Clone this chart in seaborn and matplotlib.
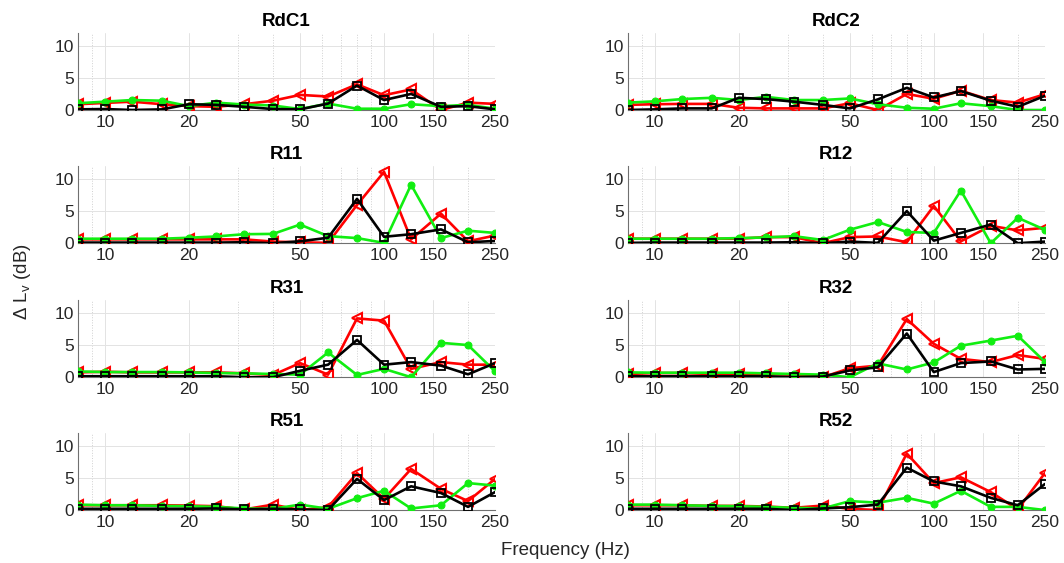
import matplotlib
matplotlib.use("Agg")
import matplotlib.pyplot as plt
import seaborn as sns
import numpy as np

freq = [8, 10, 12.5, 16, 20, 25, 31.5, 40, 50, 63, 80, 100, 125, 160, 200, 250]
titles = ["RdC1", "RdC2", "R11", "R12", "R31", "R32", "R51", "R52"]

black = {
    "RdC1": [0.1, 0.15, 0.0, 0.1, 0.9, 0.8, 0.5, 0.15, 0.1, 1.0, 3.8, 1.55, 2.5, 0.5, 0.6, 0.1],
    "RdC2": [0.0, 0.1, 0.25, 0.25, 1.9, 1.7, 1.3, 0.8, 0.25, 1.65, 3.45, 1.95, 2.95, 1.45, 0.5, 2.2],
    "R11": [0.1, 0.1, 0.1, 0.1, 0.1, 0.1, 0.15, 0.0, 0.3, 0.85, 6.9, 1.0, 1.4, 2.15, 0.15, 0.35],
    "R12": [0.05, 0.1, 0.1, 0.1, 0.1, 0.1, 0.15, 0.0, 0.25, 0.05, 5.0, 0.4, 1.6, 2.9, 0.0, 0.25],
    "R31": [0.15, 0.15, 0.15, 0.15, 0.15, 0.15, 0.0, 0.0, 1.0, 1.95, 5.8, 1.95, 2.35, 1.8, 0.45, 2.2],
    "R32": [0.15, 0.15, 0.15, 0.15, 0.15, 0.15, 0.0, 0.1, 1.05, 1.55, 6.8, 0.8, 2.2, 2.45, 1.2, 1.3],
    "R51": [0.2, 0.2, 0.2, 0.2, 0.2, 0.25, 0.1, 0.2, 0.1, 0.0, 4.85, 1.55, 3.7, 2.65, 0.5, 2.8],
    "R52": [0.2, 0.2, 0.2, 0.2, 0.2, 0.2, 0.0, 0.25, 0.45, 0.85, 6.6, 4.45, 3.7, 1.9, 0.75, 4.05],
}
red = {
    "RdC1": [0.9, 1.1, 1.3, 0.9, 0.6, 0.5, 0.9, 1.45, 2.35, 2.1, 4.0, 2.3, 3.2, 0.0, 1.15, 0.95],
    "RdC2": [0.8, 0.9, 0.95, 0.95, 0.35, 0.25, 0.25, 0.25, 1.05, 0.0, 2.5, 1.75, 3.0, 1.55, 1.15, 2.45],
    "R11": [0.6, 0.6, 0.6, 0.6, 0.6, 0.6, 0.6, 0.25, 0.15, 0.05, 5.95, 11.1, 0.6, 4.6, 0.3, 1.2],
    "R12": [0.7, 0.7, 0.7, 0.7, 0.7, 0.95, 0.95, 0.0, 0.95, 1.05, 0.15, 5.8, 0.3, 2.7, 2.0, 2.4],
    "R31": [0.75, 0.85, 0.75, 0.75, 0.75, 0.75, 0.6, 0.35, 2.2, 0.4, 9.15, 8.8, 1.3, 2.35, 1.95, 1.95],
    "R32": [0.5, 0.65, 0.65, 0.5, 0.5, 0.5, 0.4, 0.0, 1.4, 1.8, 9.05, 5.2, 2.85, 2.35, 3.45, 2.85],
    "R51": [0.75, 0.75, 0.75, 0.75, 0.7, 0.6, 0.1, 0.85, 0.0, 0.45, 5.75, 1.75, 6.4, 3.3, 1.4, 4.85],
    "R52": [0.75, 0.75, 0.75, 0.65, 0.65, 0.55, 0.35, 0.7, 0.2, 0.0, 8.8, 4.2, 5.1, 2.8, 0.1, 5.75],
}
green = {
    "RdC1": [1.05, 1.3, 1.55, 1.45, 0.6, 1.15, 0.85, 0.7, 0.15, 1.0, 0.2, 0.2, 0.9, 0.6, 0.8, 0.2],
    "RdC2": [1.15, 1.35, 1.7, 1.9, 1.55, 2.05, 1.55, 1.55, 1.8, 0.9, 0.35, 0.2, 1.05, 0.6, 0.0, 0.0],
    "R11": [0.7, 0.7, 0.7, 0.7, 0.85, 1.05, 1.4, 1.45, 2.9, 1.1, 0.8, 0.05, 9.1, 0.8, 1.95, 1.6],
    "R12": [0.7, 0.7, 0.7, 0.7, 0.8, 0.9, 1.1, 0.5, 2.1, 3.3, 1.75, 1.6, 8.2, 0.0, 3.95, 2.1],
    "R31": [0.9, 0.8, 0.8, 0.8, 0.75, 0.65, 0.6, 0.5, 0.4, 3.85, 0.35, 1.3, 0.0, 5.35, 5.0, 0.9],
    "R32": [0.75, 0.7, 0.7, 0.7, 0.7, 0.6, 0.5, 0.4, 0.0, 2.15, 1.2, 2.3, 4.9, 5.7, 6.45, 2.4],
    "R51": [0.85, 0.75, 0.75, 0.65, 0.6, 0.5, 0.25, 0.2, 0.85, 0.2, 1.85, 3.0, 0.25, 0.75, 4.2, 3.8],
    "R52": [0.85, 0.85, 0.75, 0.65, 0.6, 0.5, 0.35, 0.25, 1.4, 1.15, 1.9, 1.0, 3.0, 0.5, 0.5, 0.0],
}

xtick_vals = [10, 20, 50, 100, 150, 250]
xtick_labels = ["10", "20", "50", "100", "150", "250"]
xminor_vals = [8, 9, 30, 40, 60, 70, 80, 90, 200]
ytick_vals = [0, 5, 10]

sns.set_style("white")
plt.rcParams["font.family"] = ["Liberation Sans", "DejaVu Sans"]
plt.rcParams["mathtext.fontset"] = "custom"
plt.rcParams["mathtext.rm"] = "Liberation Sans"

fig = plt.figure(figsize=(10.64, 5.63), dpi=100)

lefts = [0.0733, 0.590]
bottoms = [0.8046, 0.568, 0.330, 0.094]
w, h = 0.392, 0.137
txt_col = "#262626"
green_col = "#11ee11"

for i, name in enumerate(titles):
    r, c = divmod(i, 2)
    ax = fig.add_axes([lefts[c], bottoms[r], w, h])
    ax.set_xscale("log")
    sns.lineplot(x=freq, y=red[name], ax=ax, color="#ff0000", marker="<",
                 markersize=6.5, markerfacecolor="none", markeredgecolor="#ff0000",
                 markeredgewidth=1.5, linewidth=1.9, zorder=3)
    sns.lineplot(x=freq, y=green[name], ax=ax, color=green_col, marker="o",
                 markersize=5, markerfacecolor=green_col, markeredgecolor=green_col,
                 linewidth=1.9, zorder=4)
    sns.lineplot(x=freq, y=black[name], ax=ax, color="black", marker="s",
                 markersize=5.2, markerfacecolor="none", markeredgecolor="black",
                 markeredgewidth=1.3, linewidth=1.9, zorder=5)
    ax.set_xlim(8, 250)
    ax.set_ylim(0, 12)
    ax.set_xticks(xtick_vals)
    ax.set_xticklabels(xtick_labels)
    ax.set_xticks(xminor_vals, minor=True)
    ax.set_xticklabels([], minor=True)
    ax.set_yticks(ytick_vals)
    ax.set_yticklabels([str(v) for v in ytick_vals])
    ax.grid(True, which="major", axis="both", color="#e3e3e3", linewidth=0.7, linestyle="-")
    ax.grid(True, which="minor", axis="x", color="#d0d0d0", linewidth=0.7, linestyle=":")
    ax.set_axisbelow(True)
    for s in ["top", "right"]:
        ax.spines[s].set_visible(False)
    for s in ["left", "bottom"]:
        ax.spines[s].set_color("#707070")
        ax.spines[s].set_linewidth(0.8)
    ax.tick_params(axis="both", which="major", direction="in", length=3.5,
                   width=0.7, color="#707070", labelsize=12.5, labelcolor=txt_col, pad=2)
    ax.tick_params(axis="x", which="major", pad=3.5)
    ax.tick_params(axis="y", which="major", pad=3)
    ax.tick_params(axis="x", which="minor", direction="in", length=2, width=0.6,
                   color="#707070")
    ax.set_title(name, fontsize=13.5, fontweight="bold", color="black", pad=5)
    ax.set_xlabel("")
    ax.set_ylabel("")

fig.text(0.021, 0.50, r"Δ L$_\mathregular{v}$ (dB)", rotation=90, ha="center",
         va="center", fontsize=13.5, color=txt_col)
fig.text(0.531, 0.023, "Frequency (Hz)", ha="center", va="center", fontsize=13.5,
         color=txt_col)

fig.savefig("out.png", dpi=100)
